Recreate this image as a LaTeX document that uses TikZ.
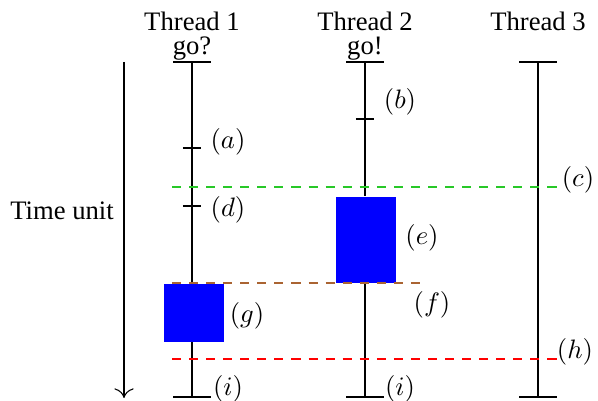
\documentclass[tikz,border=0pt]{standalone}
\usepackage{fontspec}
\setmainfont{Liberation Serif}
\usetikzlibrary{arrows.meta}
\begin{document}
\begin{tikzpicture}[x=0.375pt,y=-0.375pt,
  thr/.style={draw=black,line width=0.4pt},
  tick/.style={draw=black,line width=0.4pt},
  lbl/.style={inner sep=0pt,font=\fontsize{10}{12}\selectfont},
  hdr/.style={inner sep=0pt,anchor=base,font=\fontsize{10}{12}\selectfont},
  task/.style={fill=blue,draw=none},
  sync/.style={dash pattern=on 3.4pt off 3pt,line width=0.45pt}]
\useasboundingbox (0,0) rectangle (598,401);
% thread endpoints
\coordinate (t1a) at (192,62); \coordinate (t1b) at (192,397);
\coordinate (t2a) at (365,62); \coordinate (t2b) at (365,397);
\coordinate (t3a) at (538,62); \coordinate (t3b) at (538,397);
% headers
\node[hdr] (h1) at (192,31) {Thread 1};
\node[hdr] (g1) at (192,55) {go?};
\node[hdr] (h2) at (365,31) {Thread 2};
\node[hdr] (g2) at (365,55) {go!};
\node[hdr] (h3) at (538,31) {Thread 3};
% time axis
\coordinate (ta) at (124,62); \coordinate (tb) at (124,398);
\draw[-{To[length=3.6pt,width=7.2pt]},line width=0.4pt] (ta) -- (tb);
\node[lbl] (tu) at (62,211) {Time unit};
% tasks (boxes)
\node[task,minimum width=22.5pt,minimum height=32.25pt,inner sep=0pt,anchor=north west] (e) at (335,196) {};
\node[task,minimum width=22.5pt,minimum height=21.75pt,inner sep=0pt,anchor=north west] (g) at (163,283) {};
% threads
\draw[thr] (t1a) -- (g.north -| t1a);
\draw[thr] (g.south -| t1a) -- (t1b);
\draw[thr] (t2a) -- (e.north -| t2a);
\draw[thr] (e.south -| t2a) -- (t2b);
\draw[thr] (t3a) -- (t3b);
\foreach \c in {t1a,t1b,t2a,t2b,t3a,t3b} {
  \draw[tick] ([xshift=-7.1pt]\c) -- ([xshift=7.1pt]\c);
}
% ticks
\coordinate (ka) at (192,148); \draw[tick] ([xshift=-3.4pt]ka) -- ([xshift=3.4pt]ka);
\coordinate (kd) at (192,206); \draw[tick] ([xshift=-3.4pt]kd) -- ([xshift=3.4pt]kd);
\coordinate (kb) at (365,119); \draw[tick] ([xshift=-3.4pt]kb) -- ([xshift=3.4pt]kb);
% sync lines
\coordinate (c1) at (172,187); \coordinate (c2) at (558,187);
\draw[sync,draw={rgb,255:red,40;green,200;blue,40}] (c1) -- (c2);
\coordinate (f1) at (172,283); \coordinate (f2) at (426,283);
\draw[sync,draw={rgb,255:red,170;green,100;blue,50}] (f1) -- (f2);
\coordinate (r1) at (172,359); \coordinate (r2) at (558,359);
\draw[sync,draw=red] (r1) -- (r2);
% labels
\node[lbl] (la) at (228,142) {$(a)$};
\node[lbl] (lb) at (400,102) {$(b)$};
\node[lbl] (lc) at (578,180) {$(c)$};
\node[lbl] (ld) at (228,210) {$(d)$};
\node[lbl] (le) at (422,238) {$(e)$};
\node[lbl] (lf) at (432,305) {$(f)$};
\node[lbl] (lg) at (247,316) {$(g)$};
\node[lbl] (lh) at (575,352) {$(h)$};
\node[lbl] (li1) at (228,389) {$(i)$};
\node[lbl] (li2) at (400,389) {$(i)$};
\end{tikzpicture}
\end{document}
